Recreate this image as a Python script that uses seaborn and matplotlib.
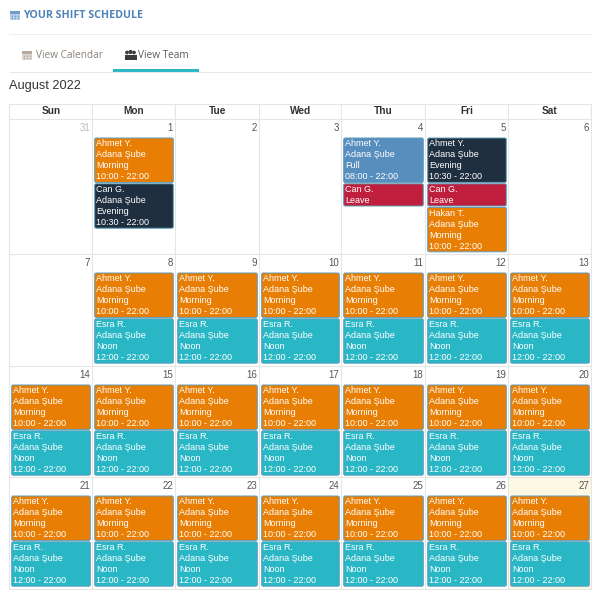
import matplotlib
matplotlib.use("Agg")
import matplotlib.pyplot as plt
from matplotlib.patches import FancyBboxPatch, Rectangle
import seaborn as sns

weekdays = ["Sun", "Mon", "Tue", "Wed", "Thu", "Fri", "Sat"]
day_numbers = [31, 1, 2, 3, 4, 5, 6,
               7, 8, 9, 10, 11, 12, 13,
               14, 15, 16, 17, 18, 19, 20,
               21, 22, 23, 24, 25, 26, 27]

morning = ["Morning", "10:00 - 22:00"]
noon = ["Noon", "12:00 - 22:00"]
evening = ["Evening", "10:30 - 22:00"]
full = ["Full", "08:00 - 22:00"]
branch = "Adana Şube"

ahmet_m = ("orange", ["Ahmet Y.", branch] + morning)
esra_n = ("teal", ["Esra R.", branch] + noon)
regular = [ahmet_m, esra_n]

week1 = [[],
         [ahmet_m, ("navy", ["Can G.", branch] + evening)],
         [], [],
         [("blue", ["Ahmet Y.", branch] + full), ("red", ["Can G.", "Leave"])],
         [("navy", ["Ahmet Y.", branch] + evening), ("red", ["Can G.", "Leave"]),
          ("orange", ["Hakan T.", branch] + morning)],
         []]
week2 = [[]] + [regular] * 6
week3 = [regular] * 7
week4 = [regular] * 7
weeks = [week1, week2, week3, week4]

sns.set_theme(style="white")
plt.rcParams["font.family"] = ["Liberation Sans", "DejaVu Sans"]

colors = dict(zip(["orange", "navy", "blue", "red", "teal"],
                  sns.color_palette(["#e87e04", "#1f2f40", "#578ebe", "#bf1f3c", "#2ab7c5"])))

fig = plt.figure(figsize=(6, 6), dpi=100)
ax = fig.add_axes([0, 0, 1, 1])
ax.set_xlim(0, 600)
ax.set_ylim(600, 0)
ax.axis("off")

grid = "#e6e6e6"
col_x = [9.5, 92.5, 175.5, 259.5, 341.5, 425.5, 508.5, 591.5]
row_y = [119.5, 254.5, 366.5, 477.5, 589.5]
open_sans = ["Open Sans", "DejaVu Sans"]


def calendar_icon(x, y, color):
    ax.add_patch(Rectangle((x, y + 0.5), 9.5, 9, fc=color, ec="none", alpha=0.45))
    ax.add_patch(Rectangle((x, y + 0.5), 9.5, 2.5, fc=color, ec="none"))
    for dx in [2, 4.7, 7.4]:
        ax.plot([x + dx, x + dx], [y + 4.2, y + 8.6], color=color, lw=1, ls=(0, (1, 0.6)))


# page header
calendar_icon(10.3, 10.5, "#6f9cc8")
ax.text(23, 15.5, "YOUR SHIFT SCHEDULE", color="#4f83b8", fontsize=7.7, fontweight="bold",
        family=open_sans, va="center")
ax.plot([10, 592], [34.5, 34.5], color="#eeeeee", lw=0.8, snap=False)
calendar_icon(22.3, 50.5, "#b5a9a0")
ax.text(36, 55, "View Calendar", color="#8a8078", fontsize=7.2, family=open_sans, va="center")
ax.scatter([127, 134, 130.5], [52.5, 52.5, 52], s=[7, 7, 9], color="#3a3a3a", lw=0)
ax.add_patch(Rectangle((124.5, 54.5), 12, 5, fc="#3a3a3a", ec="none"))
ax.text(138, 55, "View Team", color="#5a5a5a", fontsize=7.2, family=open_sans, va="center")
ax.plot([10, 592], [72.5, 72.5], color="#e4e9ee", lw=0.8, snap=False)
ax.add_patch(Rectangle((113, 69.3), 86, 2.4, fc="#2ab7c5", ec="none"))
ax.text(9, 86, "August 2022", color="#333333", fontsize=9.2, va="center")

# today cell
ax.add_patch(Rectangle((col_x[6], row_y[3]), col_x[7] - col_x[6], row_y[4] - row_y[3],
                       fc="#fcf8e3", ec="none", zorder=0))

# grid
for x in col_x:
    ax.plot([x, x], [104.5, row_y[-1]], color=grid, lw=0.8, snap=False, zorder=1)
for y in [104.5] + row_y:
    ax.plot([col_x[0], col_x[-1]], [y, y], color=grid, lw=0.8, snap=False, zorder=1)

for i, name in enumerate(weekdays):
    ax.text((col_x[i] + col_x[i + 1]) / 2, 111.5, name, color="#333333", fontsize=7.3,
            fontweight="bold", ha="center", va="center")

for r, week in enumerate(weeks):
    for c, shifts in enumerate(week):
        number = day_numbers[r * 7 + c]
        ax.text(col_x[c + 1] - 2.5, row_y[r] + 8.3, str(number),
                color="#bbbbbb" if number == 31 else "#555555",
                fontsize=7, ha="right", va="center")
        top = row_y[r] + 18.5
        for kind, lines in shifts:
            h = 11.1 * len(lines)
            ax.add_patch(FancyBboxPatch((col_x[c] + 2.2, top), col_x[c + 1] - col_x[c] - 4.4, h,
                                        boxstyle="round,pad=0,rounding_size=1.5",
                                        fc=colors[kind], ec="#5d9dbb", lw=0.7, zorder=2))
            for n, line in enumerate(lines):
                ax.text(col_x[c] + 3.7, top + 5.7 + 11.05 * n, line, color="white",
                        fontsize=6.5, va="center", zorder=3)
            top += h + 1.4

fig.savefig("out.png", dpi=100)
